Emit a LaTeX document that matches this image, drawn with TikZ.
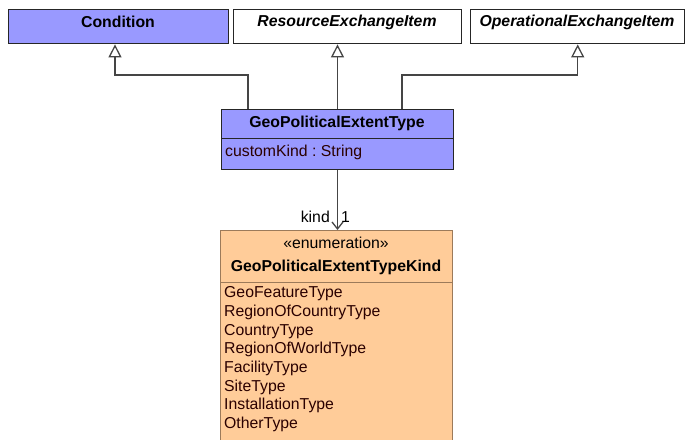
\documentclass[tikz,border=0pt]{standalone}
\usepackage{fontspec}
\setmainfont{Liberation Sans}
\usetikzlibrary{arrows.meta}
\definecolor{classblue}{HTML}{9999FF}
\definecolor{enumorange}{HTML}{FFCC99}
\definecolor{enumborder}{HTML}{9C7A5A}
\definecolor{attrtext}{HTML}{2A0000}
\definecolor{linegray}{HTML}{454545}
\frenchspacing
\begin{document}
\begin{tikzpicture}[x=1pt,y=-1pt,
  font=\fontsize{15.8}{18.6}\selectfont,
  box/.style={draw=black!85, line width=1.4pt, inner sep=0pt, anchor=north west},
  enumbox/.style={draw=enumborder, line width=1.2pt, fill=enumorange, inner sep=0pt, anchor=north west},
  gen/.style={draw=linegray, line width=1.3pt, -{Triangle[open, length=13pt, width=13pt, line width=1.3pt]}},
  assoc/.style={draw=linegray, line width=1.3pt, -{Straight Barb[length=7pt, width=11pt, line width=1.3pt]}},
  lbl/.style={inner sep=0pt, text=black},
  attr/.style={inner sep=0pt, anchor=west, text=attrtext}]
\useasboundingbox (0,0) rectangle (685,439);
\clip (0,0) rectangle (685,439);

% top classes
\node[box, fill=classblue, minimum width=220pt, minimum height=34pt] (cond) at (8,9) {};
\node[lbl] (condT) at (118,22) {\textbf{Condition}};
\node[box, fill=white, minimum width=228pt, minimum height=34pt] (res) at (233,9) {};
\node[lbl] (resT) at (347,22) {\textbf{\itshape ResourceExchangeItem}};
\node[box, fill=white, minimum width=214pt, minimum height=34pt] (op) at (470,9) {};
\node[lbl] (opT) at (577,22) {\textbf{\itshape OperationalExchangeItem}};

% GeoPoliticalExtentType
\node[box, fill=classblue, minimum width=232pt, minimum height=29pt] (geo) at (221,109) {};
\node[lbl] (geoT) at (337,123) {\textbf{GeoPoliticalExtentType}};
\node[box, fill=classblue, minimum width=232pt, minimum height=31pt] (geoA) at (221,138) {};
\node[attr] (geoAT) at (225,152) {customKind : String};

% Enumeration
\node[enumbox, minimum width=232pt, minimum height=52pt] (enum) at (220,230) {};
\node[lbl] (enumS) at (336,243) {«enumeration»};
\node[lbl] (enumT) at (336,267) {\textbf{GeoPoliticalExtentTypeKind}};
\node[enumbox, minimum width=232pt, minimum height=170pt] (enumL) at (220,282) {};
\node[attr] (e1) at (224,294) {GeoFeatureType};
\node[attr] (e2) at (224,312.6) {RegionOfCountryType};
\node[attr] (e3) at (224,331.2) {CountryType};
\node[attr] (e4) at (224,349.8) {RegionOfWorldType};
\node[attr] (e5) at (224,368.4) {FacilityType};
\node[attr] (e6) at (224,387) {SiteType};
\node[attr] (e7) at (224,405.6) {InstallationType};
\node[attr] (e8) at (224,424.2) {OtherType};

% generalizations
\coordinate (j1) at (248,75);
\coordinate (k1) at (115,75);
\coordinate (j2) at (337.5,75);
\coordinate (j3) at (402,75);
\draw[gen] (geo.north -| j1) -- (j1) -- (k1) -- (k1 |- cond.south);
\draw[gen] (geo.north -| j2) -- (j2 |- res.south);
\draw[gen] (geo.north -| j3) -- (j3) -| (op.south);

% association
\draw[assoc] (geoA.south -| j2) -- (j2 |- enum.north);
\node[lbl, anchor=east] (kindL) at (330,217) {kind};
\node[lbl, anchor=west] (multL) at (341,217) {1};
\end{tikzpicture}
\end{document}
